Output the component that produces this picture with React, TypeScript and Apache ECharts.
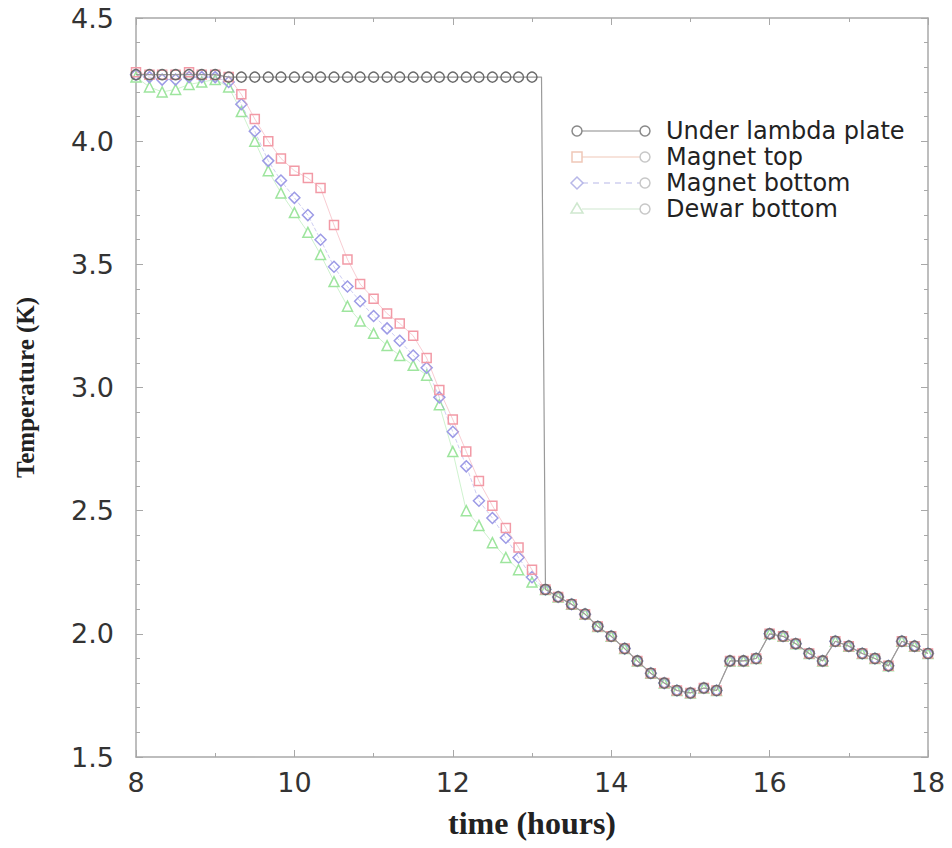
import React, { useEffect, useRef } from "react";
import * as echarts from "echarts";

// time samples (hours)
const hours = [
  8.0, 8.17, 8.33, 8.5, 8.67, 8.83, 9.0, 9.17, 9.33, 9.5, 9.67, 9.83, 10.0, 10.17, 10.33, 10.5,
  10.67, 10.83, 11.0, 11.17, 11.33, 11.5, 11.67, 11.83, 12.0, 12.17, 12.33, 12.5, 12.67, 12.83, 13.0,
  13.17, 13.33, 13.5, 13.67, 13.83, 14.0, 14.17, 14.33, 14.5, 14.67, 14.83, 15.0, 15.17, 15.33, 15.5,
  15.67, 15.83, 16.0, 16.17, 16.33, 16.5, 16.67, 16.83, 17.0, 17.17, 17.33, 17.5, 17.67, 17.83, 18.0,
];

// 8.00 .. 13.00 (31 samples)
const underLambdaHead = [
  4.27, 4.27, 4.27, 4.27, 4.27, 4.27, 4.27, 4.26, 4.26, 4.26, 4.26, 4.26, 4.26, 4.26, 4.26, 4.26,
  4.26, 4.26, 4.26, 4.26, 4.26, 4.26, 4.26, 4.26, 4.26, 4.26, 4.26, 4.26, 4.26, 4.26, 4.26,
];
// reading held just before the lambda-plate sensor drops
const underLambdaDrop = [13.12, 4.26];
const magnetTopHead = [
  4.28, 4.27, 4.27, 4.27, 4.28, 4.27, 4.27, 4.26, 4.19, 4.09, 4.0, 3.93, 3.88, 3.85, 3.81, 3.66,
  3.52, 3.42, 3.36, 3.3, 3.26, 3.21, 3.12, 2.99, 2.87, 2.74, 2.62, 2.52, 2.43, 2.35, 2.26,
];
const magnetBottomHead = [
  4.27, 4.26, 4.25, 4.25, 4.26, 4.26, 4.26, 4.24, 4.15, 4.04, 3.92, 3.84, 3.77, 3.7, 3.6, 3.49,
  3.41, 3.35, 3.29, 3.24, 3.19, 3.13, 3.08, 2.96, 2.82, 2.68, 2.54, 2.47, 2.39, 2.31, 2.23,
];
const dewarBottomHead = [
  4.26, 4.22, 4.2, 4.21, 4.23, 4.24, 4.25, 4.22, 4.12, 4.0, 3.88, 3.79, 3.71, 3.63, 3.54, 3.43,
  3.33, 3.27, 3.22, 3.17, 3.13, 3.09, 3.05, 2.93, 2.74, 2.5, 2.44, 2.37, 2.31, 2.26, 2.21,
];
// 13.17 .. 18.00 (30 samples) – all sensors read the same after the lambda transition
const sharedTail = [
  2.18, 2.15, 2.12, 2.08, 2.03, 1.99, 1.94, 1.89, 1.84, 1.8, 1.77, 1.76, 1.78, 1.77, 1.89, 1.89,
  1.9, 2.0, 1.99, 1.96, 1.92, 1.89, 1.97, 1.95, 1.92, 1.9, 1.87, 1.97, 1.95, 1.92,
];

const seriesNames = ["Under lambda plate", "Magnet top", "Magnet bottom", "Dewar bottom"];
const xTickValues = [8, 10, 12, 14, 16, 18];
const yTickValues = [1.5, 2.0, 2.5, 3.0, 3.5, 4.0, 4.5];

const SANS = "'DejaVu Sans', 'Liberation Sans', sans-serif";
const SERIF = "'Liberation Serif', 'DejaVu Serif', serif";

function toPairs(values: number[]) {
  return hours.map((h, i) => [h, values[i]]);
}

export default function App() {
  const ref = useRef<HTMLDivElement>(null);

  useEffect(() => {
    if (!ref.current) return;
    const chart = echarts.init(ref.current, null, { renderer: "svg" });

    const colors = {
      black: "#6a6a6a",
      red: "#f29aa6",
      blue: "#9d9be6",
      green: "#9ee59e",
    };

    const legendRows = [
      { name: seriesNames[0], color: "#8a8a8a", left: "circle", dash: null },
      { name: seriesNames[1], color: "#f0c8b8", left: "rect", dash: null },
      { name: seriesNames[2], color: "#b8b8e8", left: "diamond", dash: [6, 5] },
      { name: seriesNames[3], color: "#cfe8cf", left: "triangle", dash: null },
    ];
    const legendY0 = 131;
    const legendDy = 26;
    const graphic: any[] = [];
    legendRows.forEach((r, i) => {
      const y = legendY0 + i * legendDy;
      graphic.push({
        type: "line",
        shape: { x1: 582, y1: y, x2: 640, y2: y },
        style: { stroke: r.color, lineWidth: 1.2, lineDash: r.dash || undefined },
      });
      if (r.left === "circle") {
        graphic.push({ type: "circle", shape: { cx: 577, cy: y, r: 5 }, style: { fill: "#fff", stroke: r.color, lineWidth: 1.5 } });
      } else if (r.left === "rect") {
        graphic.push({ type: "rect", shape: { x: 572, y: y - 5, width: 10, height: 10 }, style: { fill: "#fff", stroke: r.color, lineWidth: 1.5 } });
      } else if (r.left === "diamond") {
        graphic.push({ type: "polygon", shape: { points: [[577, y - 6], [583, y], [577, y + 6], [571, y]] }, style: { fill: "#fff", stroke: r.color, lineWidth: 1.5 } });
      } else {
        graphic.push({ type: "polygon", shape: { points: [[577, y - 6], [583, y + 4], [571, y + 4]] }, style: { fill: "#fff", stroke: r.color, lineWidth: 1.5 } });
      }
      graphic.push({ type: "circle", shape: { cx: 645, cy: y, r: 5 }, style: { fill: "#fff", stroke: i === 0 ? r.color : "#c8c8c8", lineWidth: 1.5 } });
      graphic.push({
        type: "text",
        x: 666,
        y,
        style: { text: r.name, font: `24px ${SANS}`, fill: "#222", textVerticalAlign: "middle" },
      });
    });

    const axisLineColor = "#a8a8a8";

    const lambdaData: any[] = toPairs(underLambdaHead.concat(sharedTail));
    lambdaData.splice(underLambdaHead.length, 0, { value: underLambdaDrop, symbol: "none" });

    chart.setOption({
      animation: false,
      backgroundColor: "#ffffff",
      grid: { left: 136, top: 18, width: 792, height: 739 },
      xAxis: [
        {
          type: "value",
          min: 8,
          max: 18,
          interval: 2,
          position: "bottom",
          name: "time (hours)",
          nameLocation: "middle",
          nameGap: 50,
          nameTextStyle: { fontFamily: SERIF, fontWeight: "bold", fontSize: 32, color: "#222" },
          axisLine: { show: true, lineStyle: { color: axisLineColor, width: 1.5 } },
          axisTick: { show: true, inside: true, length: 7, lineStyle: { color: axisLineColor } },
          minorTick: { show: true, splitNumber: 2, length: 4, lineStyle: { color: axisLineColor } },
          splitLine: { show: false },
          axisLabel: {
            margin: 12,
            fontFamily: SANS,
            fontSize: 27,
            color: "#333",
            formatter: (v: number) => (xTickValues.includes(v) ? String(v) : ""),
          },
        },
        {
          type: "value",
          min: 8,
          max: 18,
          interval: 2,
          position: "top",
          axisLine: { show: true, lineStyle: { color: axisLineColor, width: 1.5 } },
          axisTick: { show: true, inside: true, length: 7, lineStyle: { color: axisLineColor } },
          minorTick: { show: true, splitNumber: 2, length: 4, lineStyle: { color: axisLineColor } },
          axisLabel: { show: false },
          splitLine: { show: false },
        },
      ],
      yAxis: [
        {
          type: "value",
          min: 1.5,
          max: 4.5,
          interval: 0.5,
          position: "left",
          name: "Temperature (K)",
          nameLocation: "middle",
          nameGap: 98,
          nameTextStyle: { fontFamily: SERIF, fontWeight: "bold", fontSize: 25, color: "#222" },
          axisLine: { show: true, lineStyle: { color: axisLineColor, width: 1.5 } },
          axisTick: { show: true, inside: true, length: 7, lineStyle: { color: axisLineColor } },
          minorTick: { show: true, splitNumber: 5, length: 4, lineStyle: { color: axisLineColor } },
          splitLine: { show: false },
          axisLabel: {
            margin: 22,
            fontFamily: SANS,
            fontSize: 27,
            color: "#333",
            formatter: (v: number) => (yTickValues.some((t) => Math.abs(t - v) < 1e-6) ? v.toFixed(1) : ""),
          },
        },
        {
          type: "value",
          min: 1.5,
          max: 4.5,
          interval: 0.5,
          position: "right",
          axisLine: { show: true, lineStyle: { color: axisLineColor, width: 1.5 } },
          axisTick: { show: true, inside: true, length: 7, lineStyle: { color: axisLineColor } },
          minorTick: { show: true, splitNumber: 5, length: 4, lineStyle: { color: axisLineColor } },
          axisLabel: { show: false },
          splitLine: { show: false },
        },
      ],
      series: [
        {
          name: seriesNames[3],
          type: "line",
          data: toPairs(dewarBottomHead.concat(sharedTail)),
          symbol: "triangle",
          symbolSize: 10,
          showAllSymbol: true,
          itemStyle: { color: "#fff", borderColor: colors.green, borderWidth: 1.5 },
          lineStyle: { color: colors.green, width: 1, opacity: 0.5 },
          z: 2,
        },
        {
          name: seriesNames[2],
          type: "line",
          data: toPairs(magnetBottomHead.concat(sharedTail)),
          symbol: "diamond",
          symbolSize: 11,
          showAllSymbol: true,
          itemStyle: { color: "transparent", borderColor: colors.blue, borderWidth: 1.5 },
          lineStyle: { color: colors.blue, width: 1, type: "dashed", opacity: 0.5 },
          z: 3,
        },
        {
          name: seriesNames[1],
          type: "line",
          data: toPairs(magnetTopHead.concat(sharedTail)),
          symbol: "rect",
          symbolSize: 9,
          showAllSymbol: true,
          itemStyle: { color: "transparent", borderColor: colors.red, borderWidth: 1.5 },
          lineStyle: { color: colors.red, width: 1, opacity: 0.5 },
          z: 4,
        },
        {
          name: seriesNames[0],
          type: "line",
          data: lambdaData,
          symbol: "circle",
          symbolSize: 10,
          showAllSymbol: true,
          itemStyle: { color: "transparent", borderColor: colors.black, borderWidth: 1.5 },
          lineStyle: { color: "#9a9a9a", width: 1.2 },
          z: 5,
        },
      ],
      graphic,
    });

    return () => chart.dispose();
  }, []);

  return (
    <div
      ref={ref}
      style={{ position: "fixed", left: 0, top: 0, width: 952, height: 848, background: "#fff" }}
    />
  );
}
